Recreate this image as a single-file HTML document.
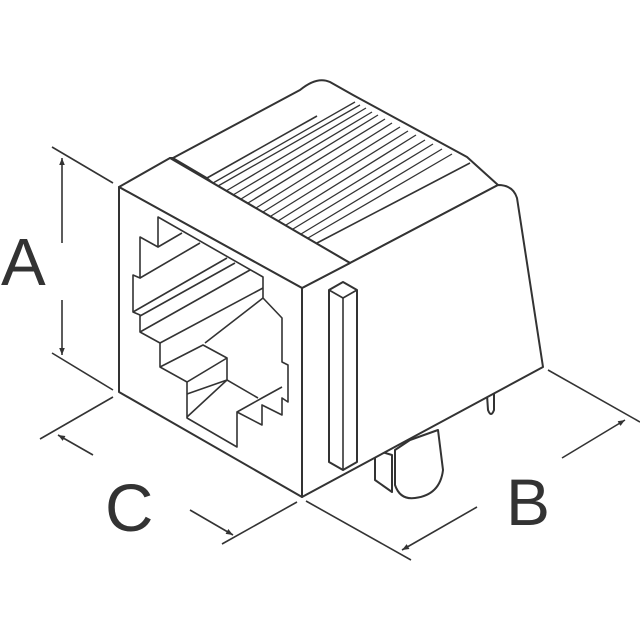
<!DOCTYPE html>
<html><head><meta charset="utf-8"><style>
html,body{margin:0;padding:0;background:#fff;}
svg{display:block;}
text{font-family:"Liberation Sans",sans-serif;fill:#333;}
</style></head><body>
<svg width="640" height="640" viewBox="0 0 640 640" xmlns="http://www.w3.org/2000/svg">
<defs>
<marker id="ar" viewBox="0 0 10 10" refX="10" refY="5" markerWidth="7" markerHeight="7" orient="auto-start-reverse" markerUnits="userSpaceOnUse">
<path d="M0,1 L10,5 L0,9 Z" fill="#333"/>
</marker>
</defs>
<g stroke="#333" stroke-width="1.6" fill="none">
<line x1="52" y1="147" x2="113" y2="183"/>
<line x1="52" y1="353" x2="113" y2="390"/>
<line x1="62" y1="243" x2="62" y2="158" marker-end="url(#ar)"/>
<line x1="62" y1="300" x2="62" y2="355" marker-end="url(#ar)"/>
<line x1="40" y1="439" x2="113" y2="397"/>
<line x1="222" y1="544" x2="297" y2="502"/>
<line x1="93" y1="455" x2="58" y2="435" marker-end="url(#ar)"/>
<line x1="190" y1="510" x2="233" y2="535" marker-end="url(#ar)"/>
<line x1="306" y1="501" x2="411" y2="560"/>
<line x1="548" y1="370" x2="640" y2="422"/>
<line x1="477" y1="507" x2="402" y2="550" marker-end="url(#ar)"/>
<line x1="562" y1="458" x2="625" y2="420" marker-end="url(#ar)"/>
</g>
<g stroke="#333" stroke-width="2" fill="#fff" stroke-linejoin="round">
<path d="M375,450 L375,480 L392,492 L392,455 Z"/>
<path d="M395,450 L395,485 Q400,500 415,498 Q440,495 443,470 L438,430 L410,440 Z"/>
<path d="M487,395 L488,410 Q491,418 494,410 L494,392"/>
<path d="M173,158 L300,90 Q317,76 330,82 L353,95 L467,157 L498,185 L350,263 L170,158 Z"/>
<path d="M302,288 L350,263 L498,185 Q513,185 517,198 L543,367 L302,497 Z"/>
<path d="M119,187 L170,158 L350,263 L302,288 Z"/>
<path d="M119,187 L302,288 L302,497 L119,392 Z"/>
<path d="M329,290 L343,282 L357,290 L357,462 L343,470 L329,462 Z"/>
</g>
<g stroke="#333" stroke-width="1.6" fill="none" stroke-linejoin="round">
<line x1="329" y1="290" x2="343" y2="298"/><line x1="343" y1="298" x2="357" y2="290"/>
<line x1="343" y1="298" x2="343" y2="470"/>
<line x1="173" y1="158" x2="207" y2="178"/>
<line x1="207" y1="178" x2="317" y2="116"/>
<path d="M207,178 L213,183"/>
<line x1="317" y1="243" x2="470" y2="163"/>
<g stroke-width="1.3">
<path d="M213,183 L355,102"/><path d="M218,186 L360,105"/>
<path d="M226,191 L366,108"/><path d="M233,195 L372,112"/>
<path d="M241,199 L378,115"/><path d="M248,203 L385,119"/>
<path d="M256,208 L392,123"/><path d="M263,212 L400,127"/>
<path d="M271,216 L408,131"/><path d="M278,221 L416,135"/>
<path d="M286,225 L425,140"/><path d="M293,229 L433,144"/>
<path d="M301,234 L442,149"/><path d="M308,238 L452,154"/>
</g>
<!-- port opening -->
<path d="M158,217 L263,277 L263,298 L282,318 L282,362 L288,365 L288,402 L282,398 L282,415 L262,405 L262,425 L237,412 L237,447 L187,418 L187,382 L160,367 L160,343 L140,332 L140,315 L133,312 L133,275 L140,278 L140,237 L158,247 Z"/>
<path d="M158,247 L182,233"/>
<path d="M140,278 L200,243"/>
<path d="M133,312 L227,258"/>
<path d="M140,316 L235,263"/>
<path d="M140,332 L250,270"/>
<path d="M160,343 L263,288"/>
<path d="M263,298 L205,343"/>
<path d="M160,367 L203,345 L227,358 L227,380 L187,394"/>
<path d="M187,382 L227,358"/>
<path d="M227,380 L187,417"/>
<path d="M227,380 L258,398"/>
<path d="M237,412 L262,398 L282,387"/>
</g>
<text x="1" y="285" font-size="67">A</text>
<text x="105" y="531" font-size="67">C</text>
<text x="506" y="525" font-size="66">B</text>
</svg>
</body></html>
